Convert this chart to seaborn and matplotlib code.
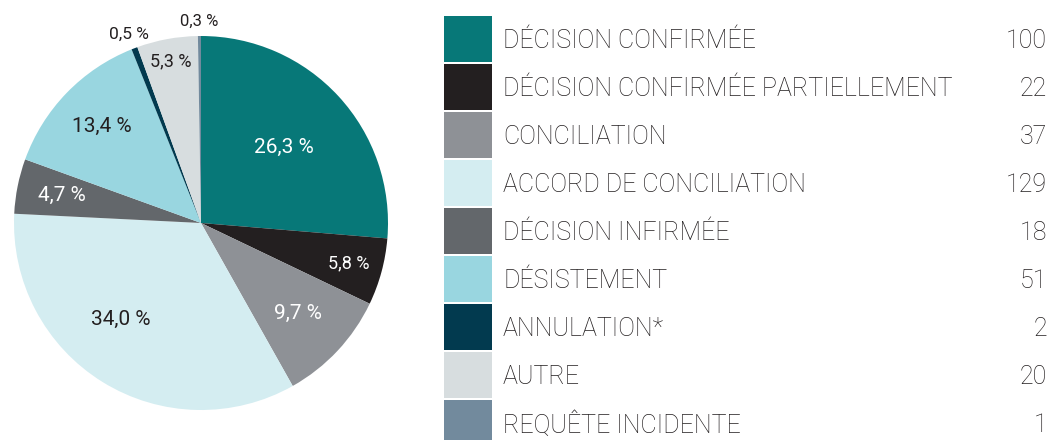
import numpy as np
import matplotlib
matplotlib.use('Agg')
import matplotlib.pyplot as plt
import seaborn as sns
from matplotlib.patches import Rectangle

# données du graphique
categories = ['DÉCISION CONFIRMÉE', 'DÉCISION CONFIRMÉE PARTIELLEMENT', 'CONCILIATION',
              'ACCORD DE CONCILIATION', 'DÉCISION INFIRMÉE', 'DÉSISTEMENT',
              'ANNULATION*', 'AUTRE', 'REQUÊTE INCIDENTE']
counts = [100, 22, 37, 129, 18, 51, 2, 20, 1]
pct_labels = ['26,3 %', '5,8 %', '9,7 %', '34,0 %', '4,7 %', '13,4 %', '0,5 %', '5,3 %', '0,3 %']

colors = ['#077878', '#231F20', '#8E9196', '#D4EDF1', '#63676B',
          '#99D6E0', '#023A4F', '#D7DDDF', '#728A9D']
# couleur du texte dans les parts
text_colors = ['white', 'white', 'white', '#231F20', 'white',
               '#231F20', '#231F20', '#231F20', '#231F20']
# placement des étiquettes : distance au centre et décalage d'angle (degrés)
label_r = [0.60, 0.82, 0.71, 0.67, 0.76, 0.74, 1.08, 0.88, 1.08]
label_dang = [0, 0, 0, -8, 0, 0, 0, 0, 0]
label_fs = [15, 13, 15, 15, 15, 15, 12.5, 13, 12]

sns.set_theme(style='white')
plt.rcParams['font.family'] = ['Roboto', 'DejaVu Sans']

W, H = 1052, 440
fig = plt.figure(figsize=(W / 100, H / 100), dpi=100)

# camembert
cx, cy, R = 201, 223, 187
ax = fig.add_axes([(cx - R) / W, (H - cy - R) / H, 2 * R / W, 2 * R / H])
wedges, _ = ax.pie(counts, colors=colors, startangle=90, counterclock=False,
                   radius=1, wedgeprops=dict(linewidth=0))
ax.set_xlim(-1, 1)
ax.set_ylim(-1, 1)
ax.set_aspect('equal')
ax.axis('off')

for w, lab, tc, r, da, fs in zip(wedges, pct_labels, text_colors, label_r, label_dang, label_fs):
    ang = np.deg2rad((w.theta1 + w.theta2) / 2 + da)
    ax.text(r * np.cos(ang), r * np.sin(ang), lab, ha='center', va='center',
            color=tc, fontsize=fs)

# légende
lax = fig.add_axes([0, 0, 1, 1])
lax.set_xlim(0, W)
lax.set_ylim(H, 0)
lax.axis('off')
top, pitch, sq = 16.5, 48, 46
for i, (cat, n, c) in enumerate(zip(categories, counts, colors)):
    y = top + i * pitch
    lax.add_patch(Rectangle((444, y), 48, sq, color=c, lw=0))
    lax.text(503, y + sq / 2 + 1.5, cat, ha='left', va='center', fontsize=18,
             color='#231F20', fontweight='light')
    lax.text(1047, y + sq / 2 + 1.5, str(n), ha='right', va='center', fontsize=18,
             color='#231F20', fontweight='light')

fig.savefig('out.png', dpi=100)
